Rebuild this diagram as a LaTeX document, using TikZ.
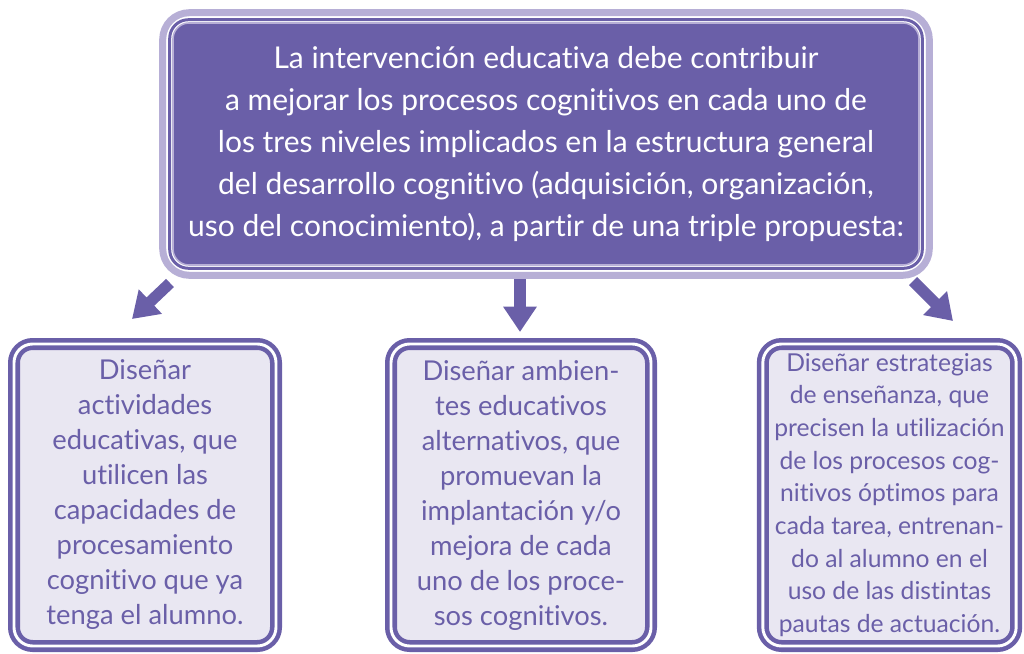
\documentclass[tikz,border=0pt]{standalone}
\usepackage{fontspec}
\setmainfont{Lato}[Ligatures=NoCommon]
\usetikzlibrary{arrows.meta,positioning}

\definecolor{morado}{HTML}{6A5FA8}
\definecolor{lila}{HTML}{B7AFD6}
\definecolor{fondo}{HTML}{E9E7F2}

\tikzset{
  cabecera/.style={rectangle, rounded corners=12pt, fill=morado, draw=lila,
    line width=1.2pt, text=white, align=center, inner sep=0pt,
    font=\fontsize{22.5}{31.5}\selectfont,
    minimum width=559.5pt, minimum height=181.5pt},
  caja/.style={rectangle, rounded corners=14pt, draw=morado, line width=3.4pt,
    double=white, double distance=2.2pt, fill=fondo, text=morado,
    align=center, inner sep=0pt, minimum height=226.5pt,
    font=\fontsize{20.5}{26.25}\selectfont},
  flecha/.style={morado, line width=8.5pt, -{Triangle[width=24pt,length=19pt]}}
}

\begin{document}
\begin{tikzpicture}[x=0.75pt, y=-0.75pt]
  \useasboundingbox (0,0) rectangle (1024,653);

  % recuadro superior
  \node[cabecera] (propuesta) at (546,144)
    {La intervención educativa debe contribuir\\
     a mejorar los procesos cognitivos en cada uno de\\
     los tres niveles implicados en la estructura general\\
     del desarrollo cognitivo (adquisición, organización,\\
     uso del conocimiento), a partir de una triple propuesta:};
  \draw[morado, line width=2.25pt, rounded corners=14pt]
    ([shift={(-2.5,-2.5)}]propuesta.north west) rectangle ([shift={(2.5,2.5)}]propuesta.south east);
  \draw[lila, line width=5.25pt, rounded corners=20pt]
    ([shift={(-9.5,-9.5)}]propuesta.north west) rectangle ([shift={(9.5,9.5)}]propuesta.south east);

  % recuadros inferiores
  \node[caja, minimum width=196.5pt] (actividades) at (145,495)
    {Diseñar\\actividades\\educativas, que\\utilicen las\\capacidades de\\procesamiento\\cognitivo que ya\\tenga el alumno.};
  \node[caja, minimum width=195pt] (ambientes) at (521,495)
    {Diseñar ambien-\\tes educativos\\alternativos, que\\promuevan la\\implantación y/o\\mejora de cada\\uno de los proce-\\sos cognitivos.};
  \node[caja, minimum width=190pt, font=\fontsize{18.5}{24.5}\selectfont] (estrategias) at (889.5,495)
    {Diseñar estrategias\\de enseñanza, que\\precisen la utilización\\de los procesos cog-\\nitivos óptimos para\\cada tarea, entrenan-\\do al alumno en el\\uso de las distintas\\pautas de actuación.};

  % flechas
  \coordinate (f1a) at (170,283);
  \coordinate (f1b) at (132,319);
  \coordinate (f2a) at (520,279);
  \coordinate (f2b) at (520,332);
  \coordinate (f3a) at (913,281);
  \coordinate (f3b) at (953,321);
  \draw[flecha] (f1a) -- (f1b);
  \draw[flecha] (f2a) -- (f2b);
  \draw[flecha] (f3a) -- (f3b);
\end{tikzpicture}
\end{document}
